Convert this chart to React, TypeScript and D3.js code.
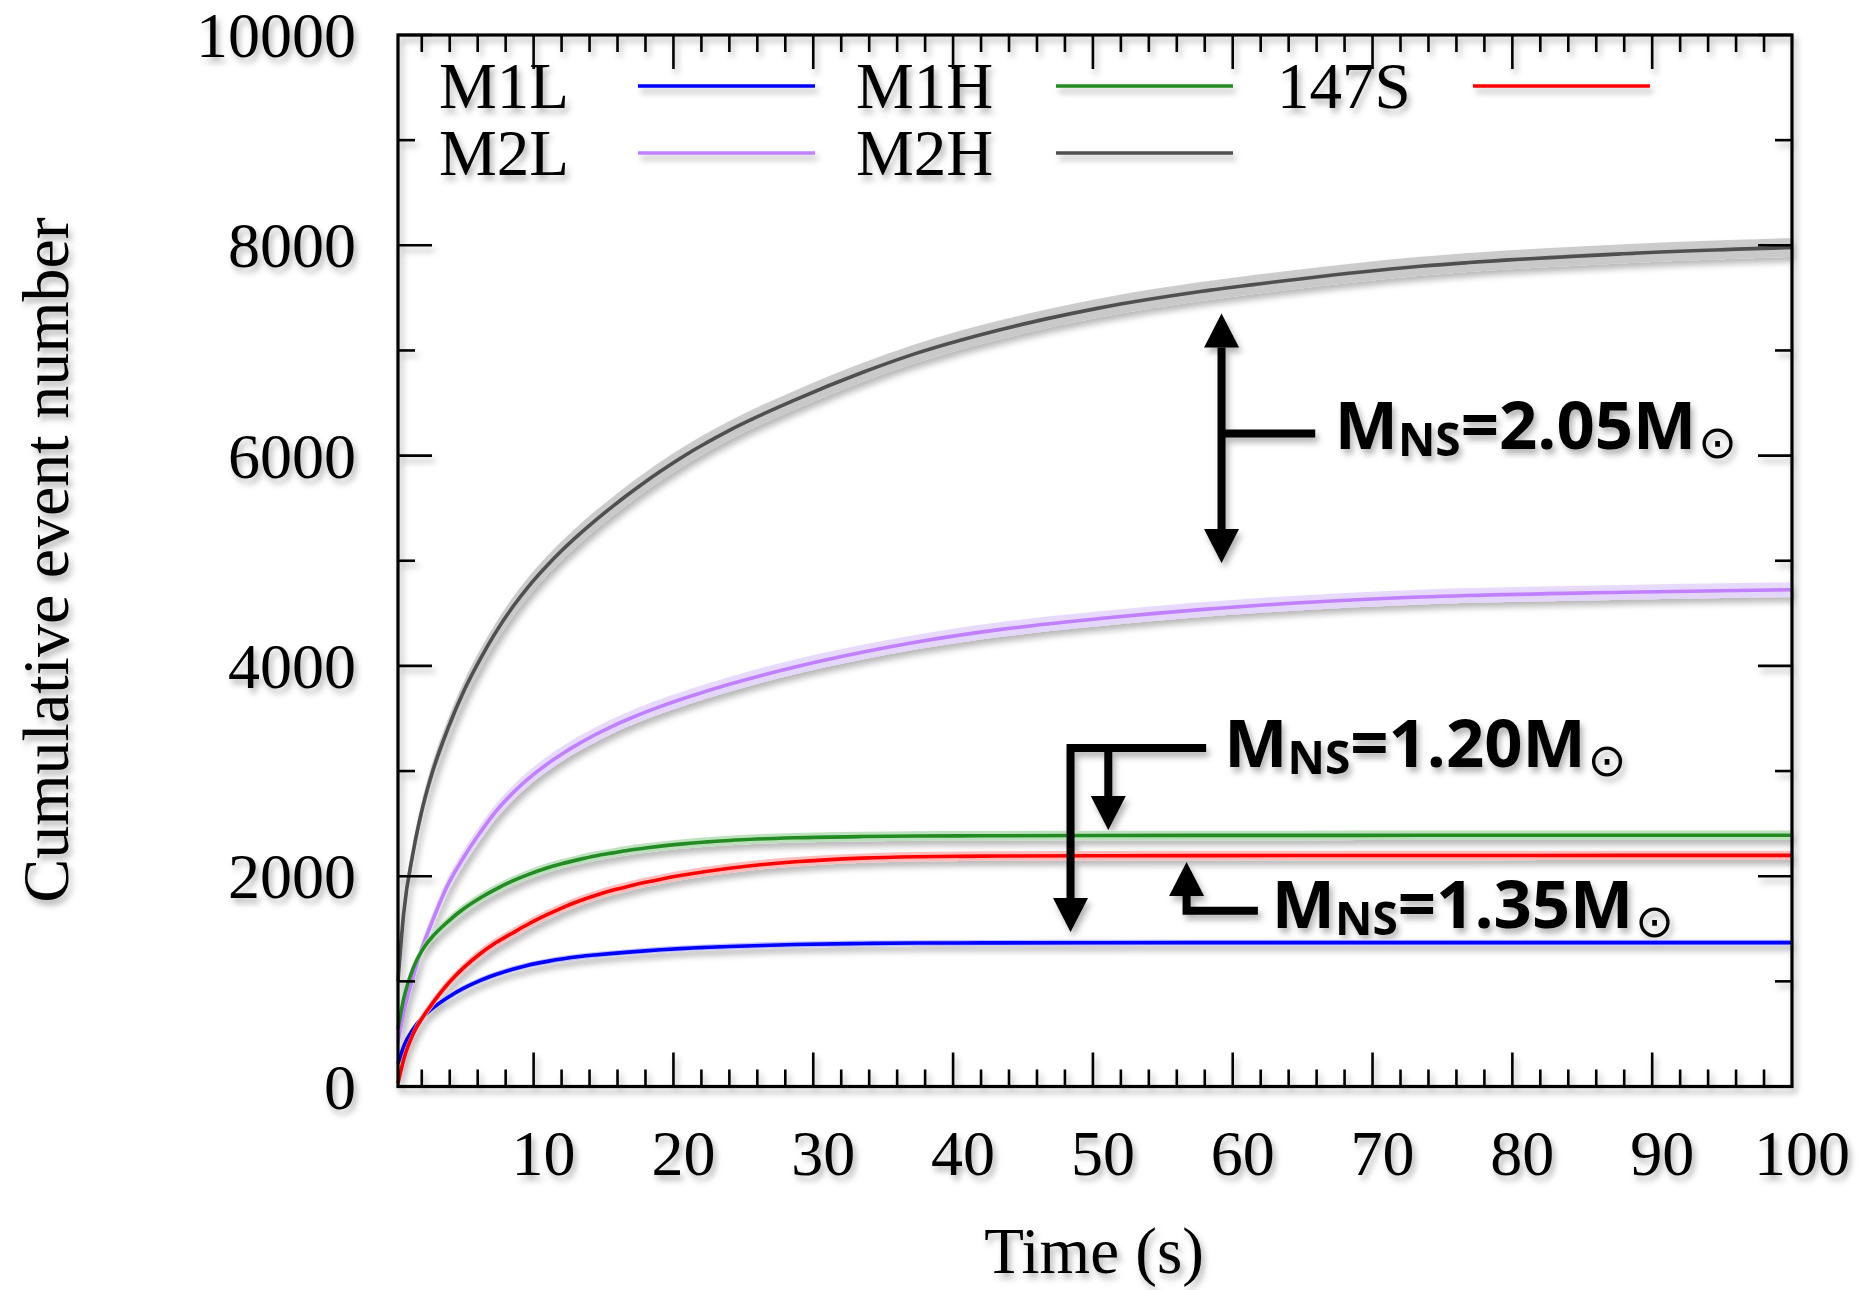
import React from "react";
import * as d3 from "d3";

// ---- data ----
const time = [0.3, 0.7, 1.4, 2.0, 2.6, 3.8, 5.0, 6.2, 7.2, 8.5, 9.6, 11, 12, 13.3, 14.4, 15.7, 16.8, 18, 19.1, 20.5, 24, 28.7, 33.5, 37.3, 43.3, 50.5, 57.7, 64.8, 73.4, 88, 100];
const m1l = [216, 380, 550, 650, 725, 842, 935, 1010, 1060, 1116, 1154, 1190, 1212, 1236, 1251, 1266, 1278, 1290, 1300, 1311, 1332, 1350, 1360, 1364, 1366, 1367, 1368, 1368, 1368, 1368, 1368];
const m2l = [420, 700, 1050, 1310, 1520, 1900, 2180, 2420, 2600, 2790, 2925, 3070, 3160, 3265, 3345, 3430, 3495, 3560, 3615, 3680, 3825, 3990, 4130, 4225, 4345, 4450, 4535, 4600, 4655, 4700, 4725];
const m1h = [550, 830, 1130, 1290, 1400, 1560, 1690, 1795, 1870, 1955, 2015, 2080, 2118, 2160, 2192, 2222, 2246, 2268, 2286, 2305, 2340, 2365, 2377, 2382, 2385, 2387, 2388, 2388, 2389, 2389, 2390];
const m2h = [1000, 1640, 2240, 2620, 2920, 3380, 3760, 4070, 4300, 4560, 4750, 4960, 5095, 5255, 5382, 5522, 5635, 5752, 5853, 5975, 6240, 6530, 6790, 6970, 7195, 7405, 7560, 7680, 7800, 7920, 7980];
const s147 = [30, 255, 505, 645, 760, 965, 1130, 1265, 1360, 1460, 1543, 1636, 1697, 1766, 1817, 1868, 1905, 1942, 1972, 2006, 2075, 2137, 2172, 2185, 2192, 2195, 2196, 2197, 2197, 2198, 2198];

const seriesNames = ["M1L", "M2L", "M1H", "M2H", "147S"];
const seriesValues = [m1l, m2l, m1h, m2h, s147];
const seriesColors = ["#0000ff", "#c080ff", "#228b22", "#505050", "#ff0000"];
const bandColors = ["#b8b8ff", "#e6d6fc", "#b8deb8", "#c8c8c8", "#ffb8b8"];
const bandHalfWidth = [28, 70, 45, 90, 45];

const xTicksMajor = [10, 20, 30, 40, 50, 60, 70, 80, 90, 100];
const yTicksMajor = [0, 2000, 4000, 6000, 8000, 10000];

// annotations in data coordinates
const annMasses = ["2.05", "1.20", "1.35"];
const annTextPos = [[67.3, 6066], [59.4, 3039], [62.8, 1507]];

const W = 1859;
const H = 1290;
const L = 398, R = 1792, T = 35, B = 1086.5;

export default function App() {
  const x = d3.scaleLinear().domain([0.3, 100]).range([L, R]);
  const y = d3.scaleLinear().domain([0, 10000]).range([B, T]);

  const line = d3.line<[number, number]>().x(d => x(d[0])).y(d => y(d[1])).curve(d3.curveMonotoneX);
  const area = d3.area<[number, number, number]>().x(d => x(d[0])).y0(d => y(d[1])).y1(d => y(d[2])).curve(d3.curveMonotoneX);

  const minorX = d3.range(0, 101, 2).filter(v => v % 10 !== 0 && v > 0.3);
  const majorX = xTicksMajor.slice(0, -1);
  const minorY = d3.range(1000, 10000, 2000);

  const tickW = 2.6;
  const ticks: JSX.Element[] = [];
  majorX.forEach((v, i) => {
    ticks.push(<line key={"xb" + i} x1={x(v)} x2={x(v)} y1={B} y2={B - 34} />);
    ticks.push(<line key={"xt" + i} x1={x(v)} x2={x(v)} y1={T} y2={T + 34} />);
  });
  minorX.forEach((v, i) => {
    ticks.push(<line key={"mxb" + i} x1={x(v)} x2={x(v)} y1={B} y2={B - 17} />);
    ticks.push(<line key={"mxt" + i} x1={x(v)} x2={x(v)} y1={T} y2={T + 17} />);
  });
  yTicksMajor.forEach((v, i) => {
    ticks.push(<line key={"yl" + i} x1={L} x2={L + 34} y1={y(v)} y2={y(v)} />);
    ticks.push(<line key={"yr" + i} x1={R} x2={R - 34} y1={y(v)} y2={y(v)} />);
  });
  minorY.forEach((v, i) => {
    ticks.push(<line key={"myl" + i} x1={L} x2={L + 17} y1={y(v)} y2={y(v)} />);
    ticks.push(<line key={"myr" + i} x1={R} x2={R - 17} y1={y(v)} y2={y(v)} />);
  });

  const headW = 35, headL = 34;
  const arrowHead = (px: number, tipY: number, dir: number) =>
    `${px},${tipY} ${px - headW / 2},${tipY - dir * headL} ${px + headW / 2},${tipY - dir * headL}`;

  // annotation geometry (data coordinates)
  const a1x = x(59.2), a1top = y(7351), a1bot = y(4978), a1stem = y(6209), a1end = x(65.9);
  const a2left = x(48.4), a2mid = x(51.1), a2end = x(58.1), a2y = y(3219), a2tip1 = y(1469), a2tip2 = y(2439);
  const a3x = x(56.7), a3tip = y(2135), a3y = y(1672), a3end = x(61.8);

  const legendTextX = [439, 439, 856, 856, 1277];
  const legendLineX = [638, 638, 1056, 1056, 1473];
  const legendRowY = [108, 175, 108, 175, 108];

  const serif = "'Liberation Serif', 'Times New Roman', Times, serif";
  const sans = "'Open Sans', 'Noto Sans', sans-serif";

  return (
    <svg width={W} height={H} viewBox={`0 0 ${W} ${H}`} style={{ position: "absolute", left: 0, top: 0, background: "#fff" }}>
      <defs>
        <filter id="shadow" filterUnits="userSpaceOnUse" x={0} y={0} width={W} height={H}>
          <feDropShadow dx={3} dy={5} stdDeviation={3} floodColor="#000" floodOpacity={0.3} />
        </filter>
      </defs>
      <rect x={0} y={0} width={W} height={H} fill="#fff" />
      <g filter="url(#shadow)">
        {/* bands and curves */}
        {seriesValues.map((vals, si) => {
          const bandData: [number, number, number][] = time.map((t, i) => [t, Math.max(0, vals[i] - bandHalfWidth[si]), vals[i] + bandHalfWidth[si]]);
          const lineData: [number, number][] = time.map((t, i) => [t, vals[i]]);
          return (
            <g key={seriesNames[si]}>
              <path d={area(bandData) || ""} fill={bandColors[si]} stroke="none" opacity={0.9} />
              <path d={line(lineData) || ""} fill="none" stroke={seriesColors[si]} strokeWidth={3.6} />
            </g>
          );
        })}

        {/* frame and ticks */}
        <g stroke="#000" strokeWidth={tickW} fill="none">
          {ticks}
        </g>
        <rect x={L} y={T} width={R - L} height={B - T} fill="none" stroke="#000" strokeWidth={3.2} />

        {/* tick labels */}
        <g fontFamily={serif} fontSize={64} fill="#000">
          {xTicksMajor.map(v => (
            <text key={"xl" + v} x={x(v) + 10} y={1175} textAnchor="middle">{v}</text>
          ))}
          {yTicksMajor.map(v => (
            <text key={"yl" + v} x={356} y={y(v) + 22} textAnchor="end">{v}</text>
          ))}
        </g>
        <text x={1094} y={1273} textAnchor="middle" fontFamily={serif} fontSize={65}>Time (s)</text>
        <text transform={`translate(68,560) rotate(-90)`} textAnchor="middle" fontFamily={serif} fontSize={66}>Cumulative event number</text>

        {/* legend */}
        {seriesNames.map((n, i) => (
          <g key={"lg" + n}>
            <text x={legendTextX[i]} y={legendRowY[i]} fontFamily={serif} fontSize={65}>{n}</text>
            <line x1={legendLineX[i]} x2={legendLineX[i] + 177} y1={legendRowY[i] - 22} y2={legendRowY[i] - 22} stroke={seriesColors[i]} strokeWidth={3.6} />
          </g>
        ))}

        {/* annotations */}
        <g stroke="#000" strokeWidth={8} fill="none">
          <line x1={a1x} x2={a1x} y1={a1top + headL} y2={a1bot - headL} />
          <line x1={a1x} x2={a1end} y1={a1stem} y2={a1stem} />
          <polyline points={`${a2end},${a2y} ${a2left},${a2y} ${a2left},${a2tip1 - headL}`} strokeLinejoin="miter" />
          <line x1={a2mid} x2={a2mid} y1={a2y} y2={a2tip2 - headL} />
          <polyline points={`${a3end},${a3y} ${a3x},${a3y} ${a3x},${a3tip + headL}`} strokeLinejoin="miter" />
        </g>
        <g fill="#000">
          <polygon points={arrowHead(a1x, a1top, -1)} />
          <polygon points={arrowHead(a1x, a1bot, 1)} />
          <polygon points={arrowHead(a2left, a2tip1, 1)} />
          <polygon points={arrowHead(a2mid, a2tip2, 1)} />
          <polygon points={arrowHead(a3x, a3tip, -1)} />
        </g>
        {annMasses.map((m, i) => (
          <text key={"ann" + i} x={x(annTextPos[i][0])} y={y(annTextPos[i][1])} fontFamily={sans} fontWeight={700} fontSize={67} fill="#000">
            <tspan>M</tspan>
            <tspan fontSize={46} dy={7}>NS</tspan>
            <tspan dy={-7}>{"=" + m + "M"}</tspan>
            <tspan fontFamily="'DejaVu Sans', sans-serif" fontWeight={400} fontSize={46} dx={2} dy={9}>⊙</tspan>
          </text>
        ))}
      </g>
    </svg>
  );
}
